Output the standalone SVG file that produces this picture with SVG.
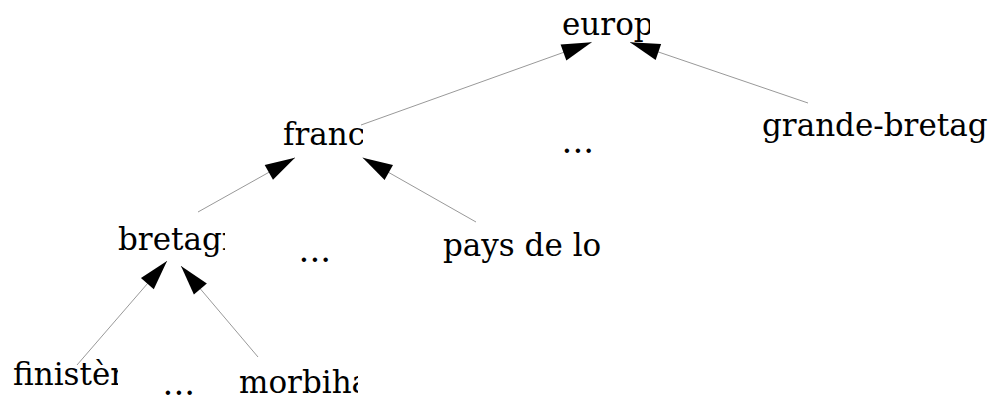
<svg xmlns="http://www.w3.org/2000/svg" width="988" height="396" viewBox="0 0 988 396">
  <style>
    .lbl { font-family: "DejaVu Serif", serif; font-size: 31px; fill: #000; }
    .dots { font-family: "DejaVu Serif", serif; font-size: 34px; fill: #000; }
    .edge { stroke: #999; stroke-width: 1; fill: none; marker-end: url(#ah); }
  </style>
  <defs>
    <marker id="ah" markerUnits="userSpaceOnUse" markerWidth="32" markerHeight="20" viewBox="-31 -10 32 20" refX="0" refY="0" orient="auto">
      <path d="M0,0 L-30,-8.5 L-30,8.5 Z" fill="#000"/>
    </marker>
    <clipPath id="c-europe"><rect x="550" y="0" width="100" height="50"/></clipPath>
    <clipPath id="c-france"><rect x="270" y="105" width="93" height="50"/></clipPath>
    <clipPath id="c-bretagne"><rect x="105" y="215" width="120" height="50"/></clipPath>
    <clipPath id="c-finistere"><rect x="0" y="350" width="118" height="46"/></clipPath>
    <clipPath id="c-morbihan"><rect x="230" y="360" width="128" height="36"/></clipPath>
  </defs>

  <g id="connectors">
    <line class="edge" x1="361" y1="125" x2="591.7" y2="42.3"/>
    <line class="edge" x1="808" y1="103" x2="630" y2="42.3"/>
    <line class="edge" x1="198" y1="212" x2="295" y2="157.7"/>
    <line class="edge" x1="476" y1="222" x2="362.7" y2="157.7"/>
    <line class="edge" x1="77" y1="365" x2="167" y2="261"/>
    <line class="edge" x1="258" y1="357" x2="181" y2="266"/>
  </g>

  <g id="europe"><text class="lbl" x="562" y="35" clip-path="url(#c-europe)">europ</text></g>
  <g id="france"><text class="lbl" x="283" y="145" clip-path="url(#c-france)">franc</text></g>
  <g id="grande-bretagne"><text class="lbl" x="762" y="136">grande-bretag</text></g>
  <g id="bretagne"><text class="lbl" x="118" y="250" clip-path="url(#c-bretagne)">bretagn</text></g>
  <g id="pays-de-loire"><text class="lbl" x="443" y="256">pays de lo</text></g>
  <g id="finistere"><text class="lbl" x="13" y="385" clip-path="url(#c-finistere)">finistèr</text></g>
  <g id="morbihan"><text class="lbl" x="239" y="393" clip-path="url(#c-morbihan)">morbiha</text></g>

  <g id="ellipsis-1"><text class="dots" x="298.6" y="261.5">...</text></g>
  <g id="ellipsis-2"><text class="dots" x="561.6" y="152.5">...</text></g>
  <g id="ellipsis-3"><text class="dots" x="162.6" y="395">...</text></g>
</svg>
